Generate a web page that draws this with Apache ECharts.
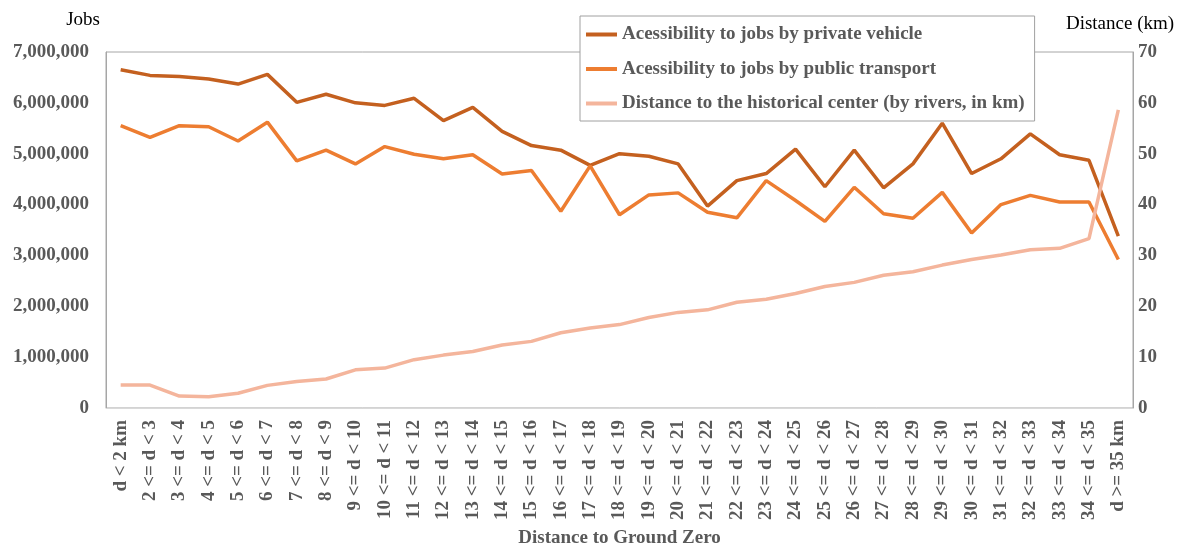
<!DOCTYPE html>
<html>
<head>
<meta charset="utf-8">
<script src="https://cdn.jsdelivr.net/npm/echarts@6/dist/echarts.min.js"></script>
<style>html,body{margin:0;padding:0;background:#fff}#c{width:1183px;height:548px}</style>
</head>
<body>
<div id="c"></div>
<script>
const categories = ["d < 2 km","2 <= d < 3","3 <= d < 4","4 <= d < 5","5 <= d < 6","6 <= d < 7","7 <= d < 8","8 <= d < 9","9 <= d < 10","10 <= d < 11","11 <= d < 12","12 <= d < 13","13 <= d < 14","14 <= d < 15","15 <= d < 16","16 <= d < 17","17 <= d < 18","18 <= d < 19","19 <= d < 20","20 <= d < 21","21 <= d < 22","22 <= d < 23","23 <= d < 24","24 <= d < 25","25 <= d < 26","26 <= d < 27","27 <= d < 28","28 <= d < 29","29 <= d < 30","30 <= d < 31","31 <= d < 32","32 <= d < 33","33 <= d < 34","34 <= d < 35","d >= 35 km"];
const privateVehicle = [6650000,6540000,6520000,6470000,6370000,6560000,6010000,6170000,6000000,5950000,6090000,5650000,5910000,5440000,5160000,5070000,4770000,5000000,4950000,4800000,3970000,4470000,4610000,5090000,4350000,5070000,4330000,4800000,5600000,4610000,4900000,5390000,4980000,4870000,3380000];
const publicTransport = [5550000,5320000,5550000,5530000,5250000,5620000,4860000,5070000,4800000,5140000,4990000,4900000,4980000,4600000,4670000,3870000,4760000,3800000,4190000,4230000,3850000,3740000,4470000,4080000,3670000,4340000,3820000,3730000,4240000,3440000,4000000,4180000,4050000,4050000,2920000];
const distanceKm = [4.5,4.5,2.35,2.2,2.9,4.45,5.2,5.7,7.5,7.85,9.5,10.4,11.1,12.4,13.1,14.8,15.75,16.4,17.8,18.8,19.3,20.8,21.4,22.5,23.9,24.7,26.1,26.8,28.1,29.2,30.1,31.1,31.4,33.3,58.6];
const seriesNames = ["Acessibility to jobs by private vehicle","Acessibility to jobs by public transport","Distance to the historical center (by rivers, in km)"];

const FONT = '"Liberation Serif", "Times New Roman", serif';
const GREY = '#595959';
const chart = echarts.init(document.getElementById('c'));
chart.setOption({
  animation: false,
  backgroundColor: '#fff',
  textStyle: {fontFamily: FONT},
  grid: {left: 106, right: 50, top: 52, bottom: 140, outerBoundsMode: 'none', containLabel: false,
    show: true, borderColor: '#a6a6a6', borderWidth: 1, backgroundColor: 'transparent'},
  legend: {
    orient: 'vertical', left: 580, top: 16,
    padding: [9, 10, 8, 6], itemGap: 15.5,
    backgroundColor: '#fff', borderColor: '#a0a0a0', borderWidth: 1,
    icon: 'rect', itemWidth: 31, itemHeight: 4,
    textStyle: {fontFamily: FONT, fontSize: 19, fontWeight: 'bold', color: GREY},
    data: seriesNames
  },
  xAxis: {
    type: 'category', data: categories, boundaryGap: true,
    name: 'Distance to Ground Zero', nameLocation: 'middle', nameGap: 121,
    nameTextStyle: {fontFamily: FONT, fontSize: 19, fontWeight: 'bold', color: GREY},
    axisLine: {lineStyle: {color: '#d9d9d9', width: 1}},
    axisTick: {show: false},
    axisLabel: {rotate: 90, interval: 0, margin: 12, fontFamily: FONT, fontSize: 19, fontWeight: 'bold', color: GREY}
  },
  yAxis: [{
    type: 'value', min: 0, max: 7000000, interval: 1000000,
    name: 'Jobs', nameLocation: 'end', nameGap: 22,
    nameTextStyle: {fontFamily: FONT, fontSize: 19, color: '#000', align: 'right', padding: [0, 6, 0, 0]},
    axisLine: {show: true, lineStyle: {color: '#a6a6a6'}},
    axisTick: {show: false}, splitLine: {show: false},
    axisLabel: {margin: 17, fontFamily: FONT, fontSize: 19, fontWeight: 'bold', color: GREY,
      formatter: v => v.toString().replace(/\B(?=(\d{3})+(?!\d))/g, ',')}
  }, {
    type: 'value', min: 0, max: 70, interval: 10, position: 'right',
    name: 'Distance (km)', nameLocation: 'end', nameGap: 18,
    nameTextStyle: {fontFamily: FONT, fontSize: 19, color: '#000', align: 'center', padding: [0, 26, 0, 0]},
    axisLine: {show: true, lineStyle: {color: '#a6a6a6'}},
    axisTick: {show: false}, splitLine: {show: false},
    axisLabel: {margin: 5, fontFamily: FONT, fontSize: 19, fontWeight: 'bold', color: GREY}
  }],
  series: [
    {name: seriesNames[0], type: 'line', data: privateVehicle, yAxisIndex: 0, symbol: 'none', color: '#C4601F', lineStyle: {width: 3.5, color: '#C4601F'}},
    {name: seriesNames[1], type: 'line', data: publicTransport, yAxisIndex: 0, symbol: 'none', color: '#ED7D31', lineStyle: {width: 3.5, color: '#ED7D31'}},
    {name: seriesNames[2], type: 'line', data: distanceKm, yAxisIndex: 1, symbol: 'none', color: '#F4B59C', lineStyle: {width: 3.5, color: '#F4B59C'}}
  ]
});
</script>
</body>
</html>
